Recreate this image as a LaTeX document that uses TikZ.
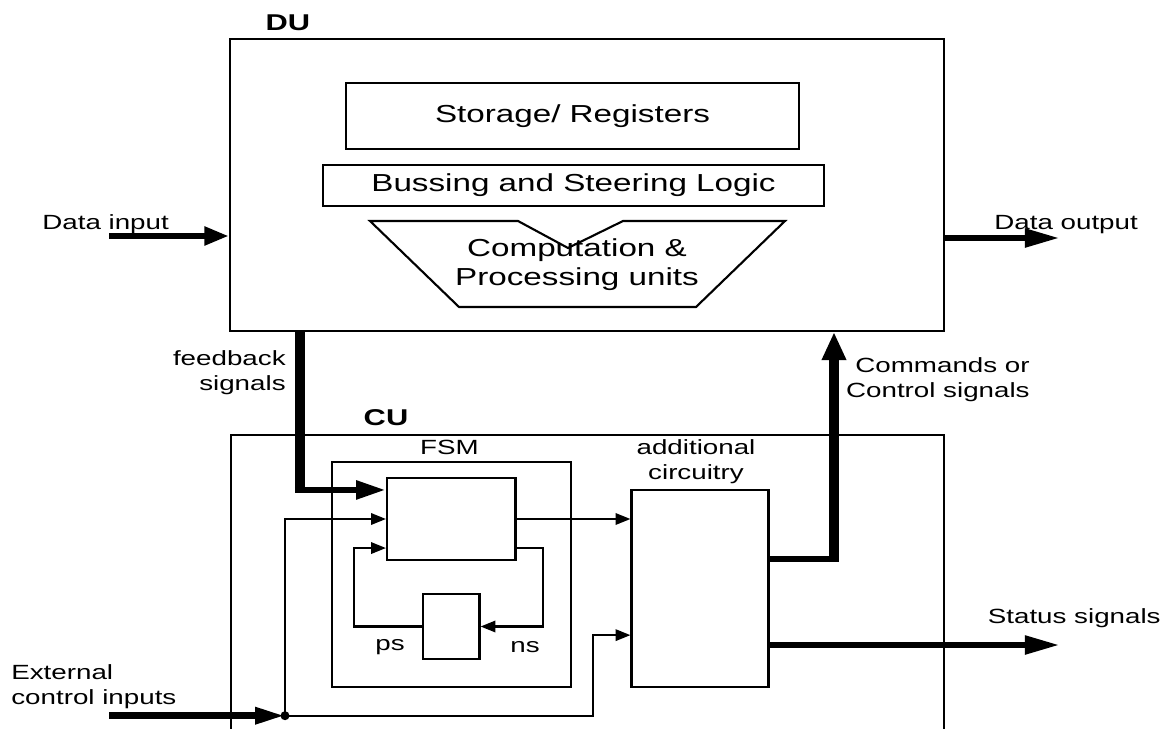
\documentclass[tikz,border=0pt]{standalone}
\usepackage{fontspec}
\setmainfont{Liberation Sans}[FakeStretch=1.35]
\usetikzlibrary{arrows.meta,calc}
\begin{document}
\begin{tikzpicture}[x=0.02cm,y=-0.02cm,
  box/.style={draw, line width=1.2pt, inner sep=0pt},
  wire/.style={line width=1.2pt},
  bus/.style={line width=3.7pt},
  vbus/.style={line width=5.7pt},
  wtip/.style={-{Triangle[length=8.5pt,width=6.5pt]}},
  btip/.style={-{Triangle[length=17pt,width=10pt]}},
  lbl/.style={inner sep=0pt, font=\fontsize{11.7}{14.2}\selectfont},
  big/.style={inner sep=0pt, font=\fontsize{14}{16.5}\selectfont},
  ttl/.style={inner sep=0pt, font=\fontsize{13}{15}\selectfont\bfseries}]
\useasboundingbox (0,0) rectangle (1165,729);
\clip (0,0) rectangle (1165,729);
\fill[white] (0,0) rectangle (1165,729);

% DU
\node[box, minimum width=14.28cm, minimum height=5.84cm] (du) at (587,185) {};
\node[ttl] (dul) at (288,23) {DU};
\node[box, big, minimum width=9.06cm, minimum height=1.32cm] (stor) at (572.5,116) {Storage/ Registers};
\node[box, big, minimum width=10.02cm, minimum height=0.82cm] (bsl) at (573.5,185.5) {Bussing and Steering Logic};
\draw[wire] (370,221) -- (518,221) -- (568,248) -- (623,221) -- (785,221) -- (696,307) -- (459,307) -- cycle;
\node[big, align=center] (comp) at (577,265) {Computation \&\\Processing units};

% CU
\node[box, minimum width=14.26cm, minimum height=7cm, anchor=north west] (cu) at (230,434) {};
\node[ttl] (cul) at (386,418) {CU};
\node[box, minimum width=4.78cm, minimum height=4.5cm] (fsm) at (451.5,574.5) {};
\node[lbl] (fsml) at (449.5,447) {FSM};
\node[box, minimum width=2.57cm, minimum height=1.64cm] (logic) at (451.25,519) {};
\node[box, minimum width=1.13cm, minimum height=1.3cm] (reg) at (451.25,626.5) {};
\node[lbl] (psl) at (390,647) {ps};
\node[lbl] (nsl) at (525,647) {ns};
\node[box, minimum width=2.74cm, minimum height=3.94cm] (add) at (700,588.3) {};
\node[lbl, align=center] (addl) at (696,462) {additional\\circuitry};

% labels
\node[lbl, anchor=base west] (dinl) at (42,230) {Data input};
\node[lbl, anchor=base west] (doutl) at (994,230) {Data output};
\node[lbl, align=right, anchor=east] (fbl) at (286,373) {feedback\\signals};
\node[lbl, align=right, anchor=east] (cmdl) at (1030,380) {Commands or\\Control signals};
\node[lbl, anchor=west] (stl) at (987.5,618) {Status signals};
\node[lbl, align=left, anchor=west] (extl) at (11,687) {External\\control inputs};

% coordinates
\coordinate (din) at (109,236);
\coordinate (dout) at (1060,238);
\coordinate (fbx) at (300,0);
\coordinate (ext) at (109,715.7);
\coordinate (j) at (285,715.7);
\coordinate (xa) at (593,0);
\coordinate (lx) at (354,0);
\coordinate (rx) at (543.4,0);
\coordinate (cx) at (834,0);
\coordinate (st) at (1060,645);
\path (logic.north west) ++(0,13) coordinate (in1);
\path (logic.south west) ++(0,-13) coordinate (in3);
\path (logic.south east) ++(0,-13) coordinate (nsout);
\path (add.north east) ++(0,70) coordinate (cmdout);
\path (add.south west) ++(0,-52.7) coordinate (addin2);

% connectors
\draw[bus, -{Triangle[length=14pt,width=10pt]}] (din) -- (din -| du.west);
\draw[bus, -{Triangle[length=20pt,width=10pt]}] (dout -| du.east) -- (dout);
\draw[vbus] (fbx |- du.south) -- ([yshift=-1.85pt]fbx |- in1);
\draw[bus, btip] ([xshift=-2.85pt]fbx |- in1) -- (in1);
\draw[bus, -{Triangle[length=17pt,width=9pt]}] (ext) -- (j);
\draw[wire, wtip] (j) |- (logic.west);
\draw[wire, wtip] (j) -- (j -| xa) |- (addin2);
\draw[wire, wtip] (reg.west) -- (reg.west -| lx) |- (in3);
\draw[wire, wtip] (nsout) -- (nsout -| rx) |- (reg.east);
\draw[wire, wtip] (logic.east) -- (logic.east -| add.west);
\draw[bus] (cmdout) -- ([xshift=2.85pt]cx |- cmdout);
\draw[vbus, -{Triangle[length=16pt,width=13pt]}] ([yshift=-1.85pt]cx |- cmdout) -- (cx |- du.south);
\draw[bus, -{Triangle[length=20pt,width=10pt]}] (st -| add.east) -- (st);
\fill (j) circle (4.5);
\end{tikzpicture}
\end{document}
